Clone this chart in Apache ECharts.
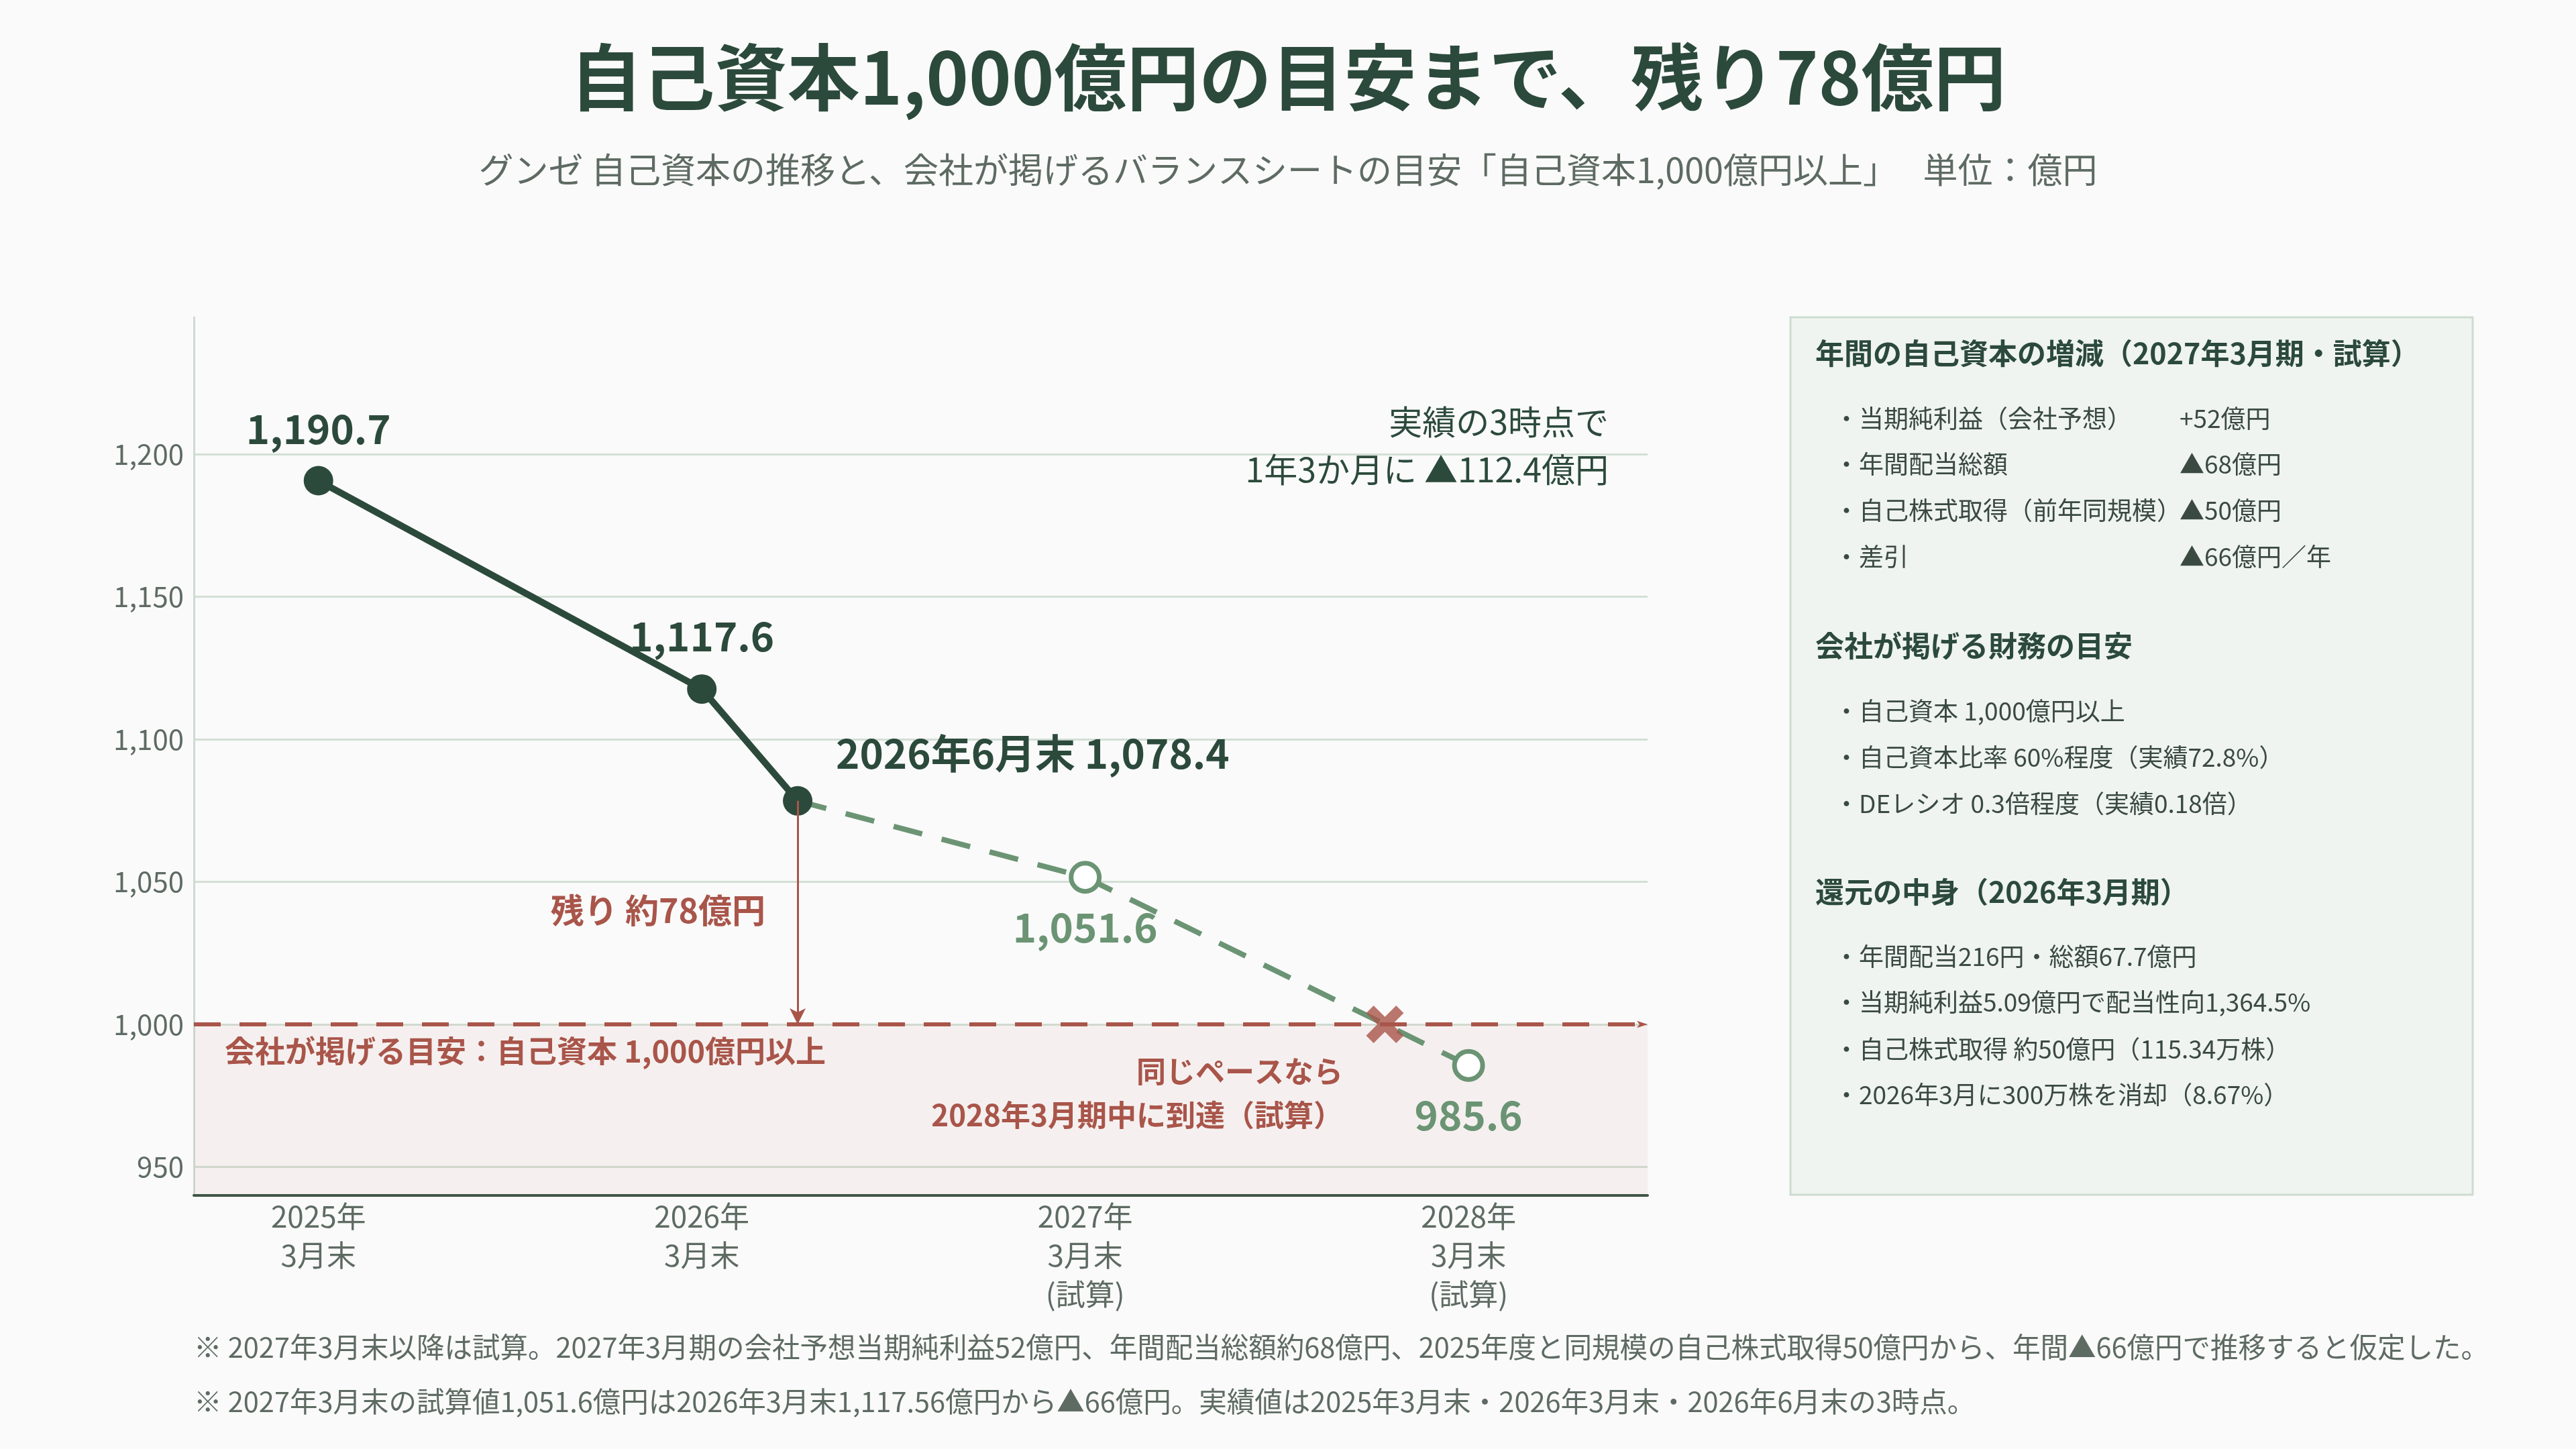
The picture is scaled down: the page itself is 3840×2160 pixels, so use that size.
<!DOCTYPE html>
<html>
<head>
<meta charset="utf-8">
<title>グンゼ 自己資本の推移</title>
<script src="https://cdn.jsdelivr.net/npm/echarts@6/dist/echarts.min.js"></script>
<style>
  html, body { margin: 0; padding: 0; background: #fafafa; }
  #main { width: 3840px; height: 2160px; }
</style>
</head>
<body>
<div id="main"></div>
<script type="text/javascript">
// --- data ---
var actualX = [2025, 2026, 2026.25];           // 2025年3月末, 2026年3月末, 2026年6月末
var actualValues = [1190.7, 1117.6, 1078.4];
var projX = [2026.25, 2027, 2028];             // 起点(実績) → 試算
var projValues = [1078.4, 1051.6, 985.6];
var targetValue = 1000;
var tickX = [2025, 2026, 2027, 2028];
var tickLabels = ['2025年\n3月末', '2026年\n3月末', '2027年\n3月末\n(試算)', '2028年\n3月末\n(試算)'];

var panelA = [['当期純利益（会社予想）', '+52億円'], ['年間配当総額', '▲68億円'],
              ['自己株式取得（前年同規模）', '▲50億円'], ['差引', '▲66億円／年']];
var panelB = ['自己資本 1,000億円以上', '自己資本比率 60%程度（実績72.8%）', 'DEレシオ 0.3倍程度（実績0.18倍）'];
var panelC = ['年間配当216円・総額67.7億円', '当期純利益5.09億円で配当性向1,364.5%',
              '自己株式取得 約50億円（115.34万株）', '2026年3月に300万株を消却（8.67%）'];

var FONT = '"Noto Sans CJK JP", "Noto Sans", sans-serif';
var DARK = '#2c4a3c';
var GREEN = '#6b9474';
var RED = '#a9554a';
var GRAY = '#5e6b63';

function fmt(v) { return echarts.format.addCommas(v.toFixed(1)); }

// 試算ラインが1,000億円を下回る位置（線形）
var crossX = projX[1] + (projValues[1] - targetValue) / (projValues[1] - projValues[2]) * (projX[2] - projX[1]);

var actualData = actualX.map(function (x, i) {
    var d = { value: [x, actualValues[i]] };
    if (i === 2) {
        d.label = { position: 'right', distance: 35, offset: [0, -71],
                    formatter: function (p) { return '2026年6月末 ' + fmt(p.value[1]); } };
    } else if (i === 1) {
        d.label = { distance: 27 };
    }
    return d;
});

var projData = projX.map(function (x, i) {
    var d = { value: [x, projValues[i]] };
    if (i === 0) { d.symbol = 'none'; d.label = { show: false }; }
    return d;
});

var myChart = echarts.init(document.getElementById('main'), null, { renderer: 'canvas', devicePixelRatio: 1 });

var option = {
    backgroundColor: '#fafafa',
    textStyle: { fontFamily: FONT },
    title: {
        text: '自己資本1,000億円の目安まで、残り78億円',
        subtext: 'グンゼ 自己資本の推移と、会社が掲げるバランスシートの目安「自己資本1,000億円以上」　 単位：億円',
        left: 'center',
        top: 56,
        itemGap: 58,
        textStyle: { fontFamily: FONT, fontSize: 108, fontWeight: 'bold', color: DARK, lineHeight: 108 },
        subtextStyle: { fontFamily: FONT, fontSize: 52, color: GRAY, lineHeight: 52 }
    },
    grid: { left: 289, right: 1384, top: 473, bottom: 378, containLabel: false },
    xAxis: {
        type: 'value',
        min: 2024.675,
        max: 2028.467,
        splitLine: { show: false },
        axisTick: { show: false },
        axisLine: { show: true, lineStyle: { color: '#3d5548', width: 4 } },
        axisLabel: {
            customValues: tickX,
            margin: 2,
            fontSize: 44,
            lineHeight: 58,
            color: GRAY,
            fontFamily: FONT,
            formatter: function (v) {
                var i = tickX.indexOf(Math.round(v));
                return i >= 0 ? tickLabels[i] : '';
            }
        }
    },
    yAxis: {
        type: 'value',
        min: 940,
        max: 1248,
        splitNumber: 6,
        axisTick: { show: false },
        axisLine: { show: true, lineStyle: { color: '#cfdad2', width: 3 } },
        splitLine: { show: true, showMinLine: false, showMaxLine: false, lineStyle: { color: '#d3dfd6', width: 3 } },
        axisLabel: {
            showMinLabel: false,
            showMaxLabel: false,
            margin: 15,
            fontSize: 42,
            color: GRAY,
            fontFamily: FONT,
            formatter: function (v) { return echarts.format.addCommas(v); }
        }
    },
    series: [
        {
            // 目安ライン・網掛け・残り矢印
            name: 'target',
            type: 'line',
            data: [],
            z: 1,
            silent: true,
            markArea: {
                silent: true,
                itemStyle: { color: 'rgba(169,85,74,0.06)' },
                data: [[{ yAxis: 940 }, { yAxis: targetValue }]]
            },
            markLine: {
                silent: true,
                animation: false,
                label: { show: false },
                data: [
                    { yAxis: targetValue, symbol: 'none',
                      lineStyle: { color: RED, width: 6, type: [40, 28] } },
                    [
                        { coord: [actualX[2], actualValues[2]], symbol: 'none',
                          lineStyle: { color: RED, width: 3, type: 'solid' } },
                        { coord: [actualX[2], targetValue], symbol: 'arrow', symbolSize: [18, 24] }
                    ]
                ]
            }
        },
        {
            name: '試算',
            type: 'line',
            data: projData,
            z: 3,
            symbol: 'circle',
            symbolSize: 42,
            lineStyle: { color: GREEN, width: 8, type: [44, 30] },
            itemStyle: { color: '#ffffff', borderColor: GREEN, borderWidth: 7 },
            label: {
                show: true,
                position: 'bottom',
                distance: 20,
                fontSize: 60,
                fontWeight: 'bold',
                color: GREEN,
                fontFamily: FONT,
                formatter: function (p) { return fmt(p.value[1]); }
            },
            animation: false
        },
        {
            name: '実績',
            type: 'line',
            data: actualData,
            z: 4,
            symbol: 'circle',
            symbolSize: 44,
            lineStyle: { color: DARK, width: 10 },
            itemStyle: { color: DARK },
            label: {
                show: true,
                position: 'top',
                distance: 25,
                fontSize: 60,
                fontWeight: 'bold',
                color: DARK,
                fontFamily: FONT,
                formatter: function (p) { return fmt(p.value[1]); }
            },
            animation: false
        },
        {
            name: '到達',
            type: 'scatter',
            z: 5,
            data: [[crossX, targetValue]],
            symbol: 'path://M2,0 L5,3 L8,0 L10,2 L7,5 L10,8 L8,10 L5,7 L2,10 L0,8 L3,5 L0,2 Z',
            symbolSize: 56,
            itemStyle: { color: RED },
            animation: false
        }
    ]
};

myChart.setOption(option);

// --- 注記・右パネル（graphic） ---
var g = [];
function txt(x, y, s, size, color, opts) {
    opts = opts || {};
    g.push({
        type: 'text', x: x, y: y, z: 10, silent: true,
        style: {
            text: s, fontSize: size, fontFamily: FONT, fill: color,
            fontWeight: opts.bold ? 'bold' : 'normal',
            textAlign: opts.align || 'left', textVerticalAlign: 'middle'
        }
    });
}

// chart annotations
txt(2398, 629, '実績の3時点で', 50, DARK, { align: 'right' });
txt(2398, 700, '1年3か月に ▲112.4億円', 50, DARK, { align: 'right' });
txt(1141, 1357, '残り 約78億円', 50, RED, { bold: true, align: 'right' });
txt(335, 1567, '会社が掲げる目安：自己資本 1,000億円以上', 45, RED, { bold: true });
txt(2002, 1597, '同じペースなら', 44, RED, { bold: true, align: 'right' });
txt(2002, 1662, '2028年3月期中に到達（試算）', 44, RED, { bold: true, align: 'right' });

// footnotes
txt(289, 2008, '※ 2027年3月末以降は試算。2027年3月期の会社予想当期純利益52億円、年間配当総額約68億円、2025年度と同規模の自己株式取得50億円から、年間▲66億円で推移すると仮定した。', 41.5, GRAY);
txt(289, 2089, '※ 2027年3月末の試算値1,051.6億円は2026年3月末1,117.56億円から▲66億円。実績値は2025年3月末・2026年3月末・2026年6月末の3時点。', 41.5, GRAY);

// right panel
g.push({
    type: 'rect', z: 5, silent: true,
    shape: { x: 2669, y: 473, width: 1017, height: 1308 },
    style: { fill: '#eff4f0', stroke: '#cddccf', lineWidth: 3 }
});
var PX = 2706, BX = 2734, VX = 3249, ITEM = '#3b4a41';
txt(PX, 527, '年間の自己資本の増減（2027年3月期・試算）', 43, DARK, { bold: true });
var ya = [624, 692, 761, 830];
panelA.forEach(function (r, i) {
    txt(BX, ya[i], '・' + r[0], 37, ITEM);
    txt(VX, ya[i], r[1], 37, ITEM);
});
txt(PX, 963, '会社が掲げる財務の目安', 43, DARK, { bold: true });
var yb = [1060, 1129, 1198];
panelB.forEach(function (s, i) { txt(BX, yb[i], '・' + s, 37, ITEM); });
txt(PX, 1330, '還元の中身（2026年3月期）', 43, DARK, { bold: true });
var yc = [1426, 1494, 1564, 1632];
panelC.forEach(function (s, i) { txt(BX, yc[i], '・' + s, 37, ITEM); });

myChart.setOption({ graphic: g });
</script>
</body>
</html>
